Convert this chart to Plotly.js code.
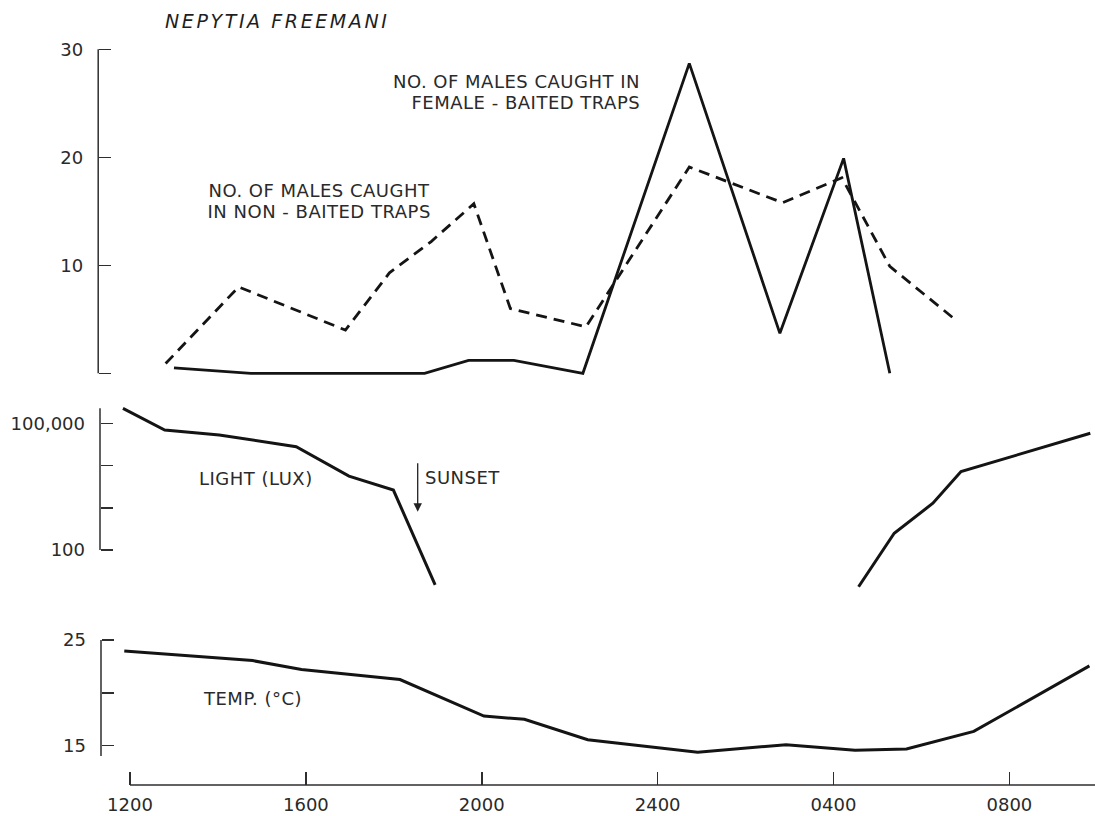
<!DOCTYPE html>
<html>
<head>
<meta charset="utf-8">
<script src="https://cdn.plot.ly/plotly-3.0.1.min.js"></script>
<style>
  html, body { margin: 0; padding: 0; background: #fff; }
  g.annotation text.annotation-text { letter-spacing: 0.5px; }
  g.annotation[data-index="0"] text.annotation-text { letter-spacing: 2.6px; }
</style>
</head>
<body>
<div id="chart" style="width:1095px;height:816px;"></div>
<script>
// ---- data (hours counted from noon: 12 = 1200, 24 = 2400, 28 = 0400 next day) ----
const hourTickVals = [12, 16, 20, 24, 28, 32];
const hourTickText = ['1200', '1600', '2000', '2400', '0400', '0800'];

const femaleBaitedHours = [13.0, 14.75, 18.7, 19.7, 20.73, 22.3, 24.72, 26.78, 28.23, 29.28];
const femaleBaitedMales = [0.5, 0, 0, 1.2, 1.2, 0, 28.7, 3.7, 19.9, 0];

const nonBaitedHours = [12.81, 14.47, 16.9, 17.9, 18.85, 19.82, 20.65, 22.37, 24.72, 26.84, 28.19, 29.28, 30.82];
const nonBaitedMales = [0.9, 8.0, 4.0, 9.3, 12.2, 15.7, 6.0, 4.3, 19.1, 15.8, 18.1, 9.9, 4.8];

const lightHoursDay = [11.84, 12.79, 14.03, 15.78, 16.98, 17.99, 18.94];
const lightLuxDay = [226000, 69500, 53000, 28000, 5600, 2630, 15];
const lightHoursMorning = [28.57, 29.38, 30.26, 30.90, 33.84];
const lightLuxMorning = [13.5, 250, 1280, 7200, 58000];

const tempHours = [11.87, 14.79, 15.90, 18.14, 20.05, 20.97, 22.41, 24.91, 26.92, 28.49, 29.66, 31.19, 33.82];
const tempC = [23.96, 23.05, 22.2, 21.26, 17.8, 17.5, 15.57, 14.37, 15.1, 14.56, 14.69, 16.35, 22.55];

const trapTickVals = [0, 10, 20, 30];
const trapTickText = ['', '10', '20', '30'];
const luxTickVals = [100, 1000, 10000, 100000];
const luxTickText = ['100', '', '', '100,000'];
const tempTickVals = [15, 20, 25];
const tempTickText = ['15', '', '25'];

// ---- layout helpers (pixel -> paper) ----
const W = 1095, H = 816;
const px = x => x / W;
const py = y => 1 - y / H;
const FONT = 'DejaVu Sans, Liberation Sans, sans-serif';
const INK = '#141414';
const AX = '#2e2e2e';

const lineStyle = { color: INK, width: 3 };

const traces = [
  { x: nonBaitedHours, y: nonBaitedMales, xaxis: 'x', yaxis: 'y', mode: 'lines',
    line: { color: INK, width: 2.8, dash: '11px,7px' }, hoverinfo: 'skip' },
  { x: femaleBaitedHours, y: femaleBaitedMales, xaxis: 'x', yaxis: 'y', mode: 'lines',
    line: { color: INK, width: 2.8 }, hoverinfo: 'skip' },
  { x: lightHoursDay, y: lightLuxDay, xaxis: 'x', yaxis: 'y2', mode: 'lines',
    line: lineStyle, hoverinfo: 'skip' },
  { x: lightHoursMorning, y: lightLuxMorning, xaxis: 'x', yaxis: 'y2', mode: 'lines',
    line: lineStyle, hoverinfo: 'skip' },
  { x: tempHours, y: tempC, xaxis: 'x', yaxis: 'y3', mode: 'lines',
    line: lineStyle, hoverinfo: 'skip' }
];

const pxPerHour = 43.97, x12 = 130;
const tickFont = { family: FONT, size: 18, color: '#2a2a2a' };

const yCommon = {
  anchor: 'free', showgrid: false, zeroline: false, showline: false,
  ticks: 'inside', ticklen: 12, tickwidth: 1.5, tickcolor: AX,
  tickfont: tickFont, tickmode: 'array', ticklabelstandoff: 15, fixedrange: true
};

const layout = {
  width: W, height: H,
  margin: { l: 0, r: 0, t: 0, b: 0 },
  paper_bgcolor: '#ffffff', plot_bgcolor: 'rgba(0,0,0,0)',
  showlegend: false,
  xaxis: {
    domain: [0, 1],
    range: [12 - x12 / pxPerHour, 12 + (W - x12) / pxPerHour],
    anchor: 'free', position: py(785),
    showgrid: false, zeroline: false, showline: false,
    ticks: 'inside', ticklen: 13, tickwidth: 1.5, tickcolor: AX,
    tickmode: 'array', tickvals: hourTickVals, ticktext: hourTickText,
    tickfont: tickFont, ticklabelstandoff: 7, fixedrange: true
  },
  yaxis: Object.assign({}, yCommon, {
    domain: [py(395), py(30)],
    range: [(373.3 - 395) / 10.8, (373.3 - 30) / 10.8],
    position: px(98.2),
    tickvals: trapTickVals, ticktext: trapTickText
  }),
  yaxis2: Object.assign({}, yCommon, {
    type: 'log',
    domain: [py(605), py(400)],
    range: [2 - 55 / 42.23, 5 + 23.3 / 42.23],
    position: px(100),
    tickvals: luxTickVals, ticktext: luxTickText
  }),
  yaxis3: Object.assign({}, yCommon, {
    domain: [py(760), py(620)],
    range: [15 - 14.3 / 10.57, 25 + 20 / 10.57],
    position: px(101),
    tickvals: tempTickVals, ticktext: tempTickText
  }),
  shapes: [
    // axis lines (only the drawn extent of each axis)
    { type: 'line', xref: 'paper', yref: 'paper', x0: px(98.2), x1: px(98.2), y0: py(49.3), y1: py(373.3), line: { color: AX, width: 1.5 } },
    { type: 'line', xref: 'paper', yref: 'paper', x0: px(100), x1: px(100), y0: py(408.3), y1: py(550), line: { color: AX, width: 1.5 } },
    { type: 'line', xref: 'paper', yref: 'paper', x0: px(101), x1: px(101), y0: py(640), y1: py(756), line: { color: AX, width: 1.5 } },
    { type: 'line', xref: 'paper', yref: 'paper', x0: px(130), x1: 1, y0: py(785), y1: py(785), line: { color: AX, width: 1.5 } }
  ],
  annotations: [
    { text: '<i>NEPYTIA FREEMANI</i>', xref: 'paper', yref: 'paper', x: px(163), y: py(21),
      xanchor: 'left', yanchor: 'middle', align: 'left', showarrow: false,
      font: { family: FONT, size: 19, color: '#1e1e1e' } },
    { text: 'NO. OF MALES CAUGHT IN', xref: 'paper', yref: 'paper', x: px(642), y: py(82),
      xanchor: 'right', yanchor: 'middle', align: 'right', showarrow: false,
      font: { family: FONT, size: 18, color: '#2a2a2a' } },
    { text: 'FEMALE - BAITED TRAPS', xref: 'paper', yref: 'paper', x: px(642), y: py(102),
      xanchor: 'right', yanchor: 'middle', align: 'right', showarrow: false,
      font: { family: FONT, size: 18, color: '#2a2a2a' } },
    { text: 'NO. OF MALES CAUGHT', xref: 'paper', yref: 'paper', x: px(433), y: py(190),
      xanchor: 'right', yanchor: 'middle', align: 'right', showarrow: false,
      font: { family: FONT, size: 18, color: '#2a2a2a' } },
    { text: 'IN NON - BAITED TRAPS', xref: 'paper', yref: 'paper', x: px(433), y: py(212),
      xanchor: 'right', yanchor: 'middle', align: 'right', showarrow: false,
      font: { family: FONT, size: 18, color: '#2a2a2a' } },
    { text: 'LIGHT (LUX)', xref: 'paper', yref: 'paper', x: px(197), y: py(478),
      xanchor: 'left', yanchor: 'middle', align: 'left', showarrow: false,
      font: { family: FONT, size: 18, color: '#2a2a2a' } },
    { text: 'SUNSET', xref: 'paper', yref: 'paper', x: px(423), y: py(477),
      xanchor: 'left', yanchor: 'middle', align: 'left', showarrow: false,
      font: { family: FONT, size: 18, color: '#2a2a2a' } },
    { text: 'TEMP. (°C)', xref: 'paper', yref: 'paper', x: px(201), y: py(698),
      xanchor: 'left', yanchor: 'middle', align: 'left', showarrow: false,
      font: { family: FONT, size: 18, color: '#2a2a2a' } },
    { text: '', xref: 'paper', yref: 'paper', x: px(417.7), y: py(511.7),
      showarrow: true, ax: 0, ay: -50, arrowhead: 2, arrowsize: 1.3, arrowwidth: 1.3,
      arrowcolor: '#222', standoff: 0, startstandoff: 0 }
  ]
};

Plotly.newPlot('chart', traces, layout, { staticPlot: true, displayModeBar: false });
</script>
</body>
</html>
